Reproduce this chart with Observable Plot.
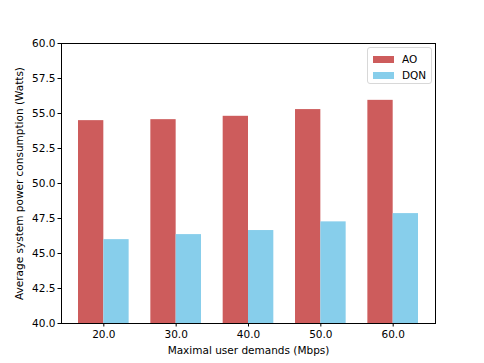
<!DOCTYPE html>
<html>
<head>
<meta charset="utf-8">
<script src="https://cdn.jsdelivr.net/npm/d3@7"></script>
<script src="https://cdn.jsdelivr.net/npm/@observablehq/plot@0.6"></script>
<style>
  html, body { margin: 0; padding: 0; background: #fff; }
  #wrap { position: relative; width: 484px; height: 363px; font-family: "DejaVu Sans", sans-serif; }
  #legend { position: absolute; left: 367px; top: 47px; width: 63px; height: 35px; border: 1px solid #d8d8d8; border-radius: 3px; background: rgba(255,255,255,0.8); font-size: 10.5px; color: #000; }
  .item { position: absolute; left: 5px; height: 12px; line-height: 12px; }
  .sw { display: inline-block; width: 21px; height: 7px; vertical-align: middle; margin-right: 8px; position: relative; top: -1px; }
</style>
</head>
<body>
<div id="wrap"></div>
<script>
const categories = ["20.0", "30.0", "40.0", "50.0", "60.0"];
const seriesNames = ["AO", "DQN"];
const aoValues = [54.49, 54.56, 54.80, 55.28, 55.94];
const dqnValues = [45.99, 46.35, 46.64, 47.26, 47.85];
const colors = ["#CD5C5C", "#87CEEB"];
const yTicks = [40, 42.5, 45, 47.5, 50, 52.5, 55, 57.5, 60];

const barWidth = 0.35;
const rows = [];
[aoValues, dqnValues].forEach((vals, s) => {
  vals.forEach((v, i) => {
    rows.push({ i, series: seriesNames[s], value: v,
      x1: i + (s - 1) * barWidth, x2: i + s * barWidth });
  });
});

const chart = Plot.plot({
  width: 484,
  height: 363,
  marginLeft: 61,
  marginRight: 49,
  marginTop: 43,
  marginBottom: 40,
  style: { fontFamily: "DejaVu Sans, sans-serif", fontSize: "10.5px", color: "#000", background: "#fff" },
  x: { domain: [-0.585, 4.585] },
  y: { domain: [40, 60] },
  color: { domain: seriesNames, range: colors },
  marks: [
    Plot.rect(rows, { x1: "x1", x2: "x2", y1: 0, y2: "value", fill: "series", clip: true }),
    Plot.frame({ stroke: "#000", strokeWidth: 1 }),
    Plot.axisX({ ticks: [0, 1, 2, 3, 4], tickFormat: i => categories[i], tickSize: 3.5, tickPadding: 4,
      label: "Maximal user demands (Mbps)", labelAnchor: "center", labelArrow: false, labelOffset: 30 }),
    Plot.axisY({ ticks: yTicks, tickFormat: d3.format(".1f"), tickSize: 3.5, tickPadding: 2.5,
      label: "Average system power consumption (Watts)", labelAnchor: "center", labelArrow: false, labelOffset: 46 })
  ]
});

const wrap = document.getElementById("wrap");
wrap.appendChild(chart);
const legend = document.createElement("div");
legend.id = "legend";
seriesNames.forEach((name, k) => {
  const it = document.createElement("div");
  it.className = "item";
  it.style.top = (5 + k * 16) + "px";
  const sw = document.createElement("span");
  sw.className = "sw";
  sw.style.background = colors[k];
  it.appendChild(sw);
  it.appendChild(document.createTextNode(name));
  legend.appendChild(it);
});
wrap.appendChild(legend);
</script>
</body>
</html>
